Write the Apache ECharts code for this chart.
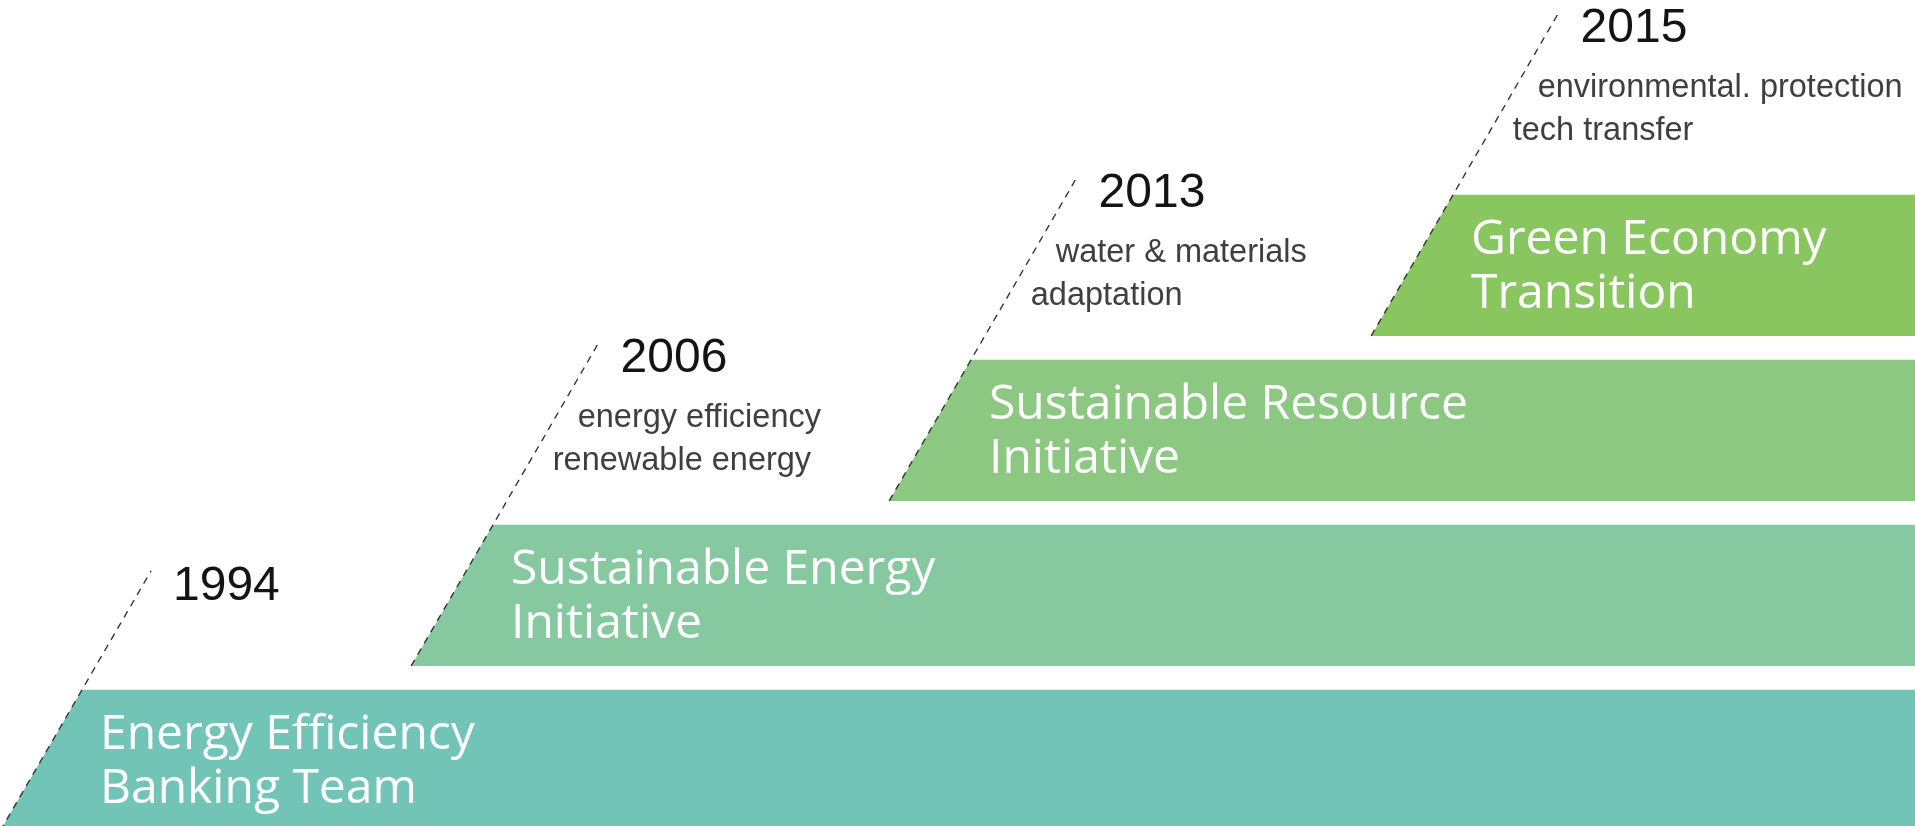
<!DOCTYPE html>
<html>
<head>
<meta charset="utf-8">
<title>Programme timeline</title>
<script src="https://cdn.jsdelivr.net/npm/echarts@6/dist/echarts.min.js"></script>
<style>
  html, body { margin: 0; padding: 0; background: #fff; }
  #chart { width: 1915px; height: 826px; }
</style>
</head>
<body>
<div id="chart"></div>
<script>
  // milestones, oldest first
  const years = ['1994', '2006', '2013', '2015'];
  const programmes = [
    'Energy Efficiency\nBanking Team',
    'Sustainable Energy\nInitiative',
    'Sustainable Resource\nInitiative',
    'Green Economy\nTransition',
  ];
  const focusAreas = [
    [],
    ['energy efficiency', 'renewable energy'],
    ['water & materials', 'adaptation'],
    ['environmental. protection', 'tech transfer'],
  ];
  // where each step starts on the timeline axis, and its level
  const stepStart = [82, 493, 971, 1453];
  const stepLevel = [0, 1, 2, 3];

  const bandColors = ['#72c5b6', '#86c9a1', '#8cc882', '#89c660'];
  const SLANT = 0.58; // horizontal drift per px of height on the slanted edge
  const BAND = 0.855; // band thickness in level units

  const chart = echarts.init(document.getElementById('chart'));

  const renderStep = (params, api) => {
    const i = params.dataIndex;
    const top = api.coord([api.value(0), api.value(1) + BAND]);
    const bottom = api.coord([api.value(0), api.value(1)]);
    const h = bottom[1] - top[1];
    const right = params.coordSys.x + params.coordSys.width;
    const x0 = top[0];
    const y0 = top[1];
    const bx = x0 - SLANT * h;

    const details = focusAreas[i];
    const rise = details.length ? 182 : 119;
    const tipY = y0 - rise;
    const tipX = x0 + SLANT * rise;
    const edgeX = (y) => tipX - SLANT * (y - tipY);

    const children = [
      {
        type: 'polygon',
        shape: { points: [[x0, y0], [right + 5, y0], [right + 5, y0 + h], [bx, y0 + h]] },
        style: { fill: bandColors[i] },
      },
      {
        type: 'line',
        shape: { x1: bx, y1: y0 + h, x2: tipX, y2: tipY },
        style: { stroke: '#333333', lineWidth: 1.4, lineDash: [7, 6] },
      },
      {
        type: 'text',
        style: {
          text: years[i],
          x: tipX + 22,
          y: tipY + 16,
          verticalAlign: 'middle',
          font: '48px "Liberation Sans", Arial, sans-serif',
          fill: '#141414',
        },
      },
      {
        type: 'text',
        style: {
          text: programmes[i],
          x: x0 + 18,
          y: y0 + 18,
          verticalAlign: 'top',
          lineHeight: 54,
          font: '48px "Open Sans", sans-serif',
          fill: '#ffffff',
        },
      },
    ];

    details.forEach((line, j) => {
      const base = tipY + 86 + 43 * j;
      children.push({
        type: 'text',
        style: {
          text: line,
          x: edgeX(base) + 29,
          y: base - 11,
          verticalAlign: 'middle',
          font: '32.5px "Liberation Sans", Arial, sans-serif',
          fill: '#3f3f3f',
        },
      });
    });

    return { type: 'group', children };
  };

  chart.setOption({
    animation: false,
    grid: { left: 0, right: 0, top: 0, bottom: 0 },
    xAxis: { type: 'value', min: 0, max: 1915, show: false },
    yAxis: { type: 'value', min: 0.03, max: 5.036, show: false },
    series: [
      {
        type: 'custom',
        clip: false,
        renderItem: renderStep,
        data: stepStart.map((s, i) => [s, stepLevel[i]]),
      },
    ],
  });
</script>
</body>
</html>
